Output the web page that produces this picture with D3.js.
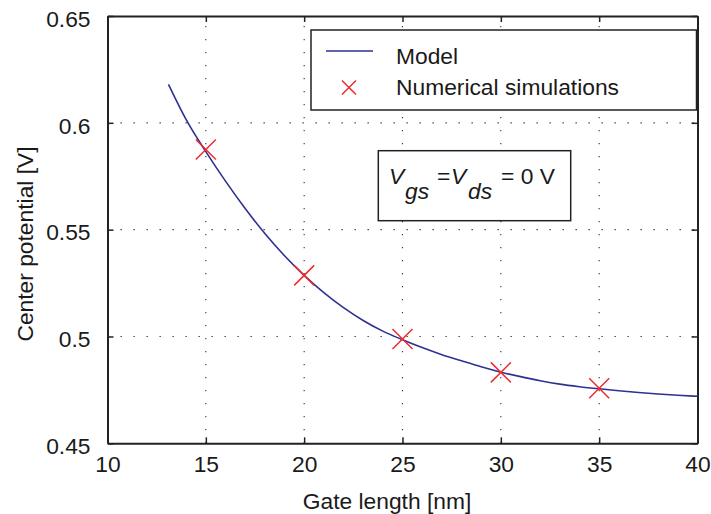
<!DOCTYPE html>
<html>
<head>
<meta charset="utf-8">
<script src="https://cdn.jsdelivr.net/npm/d3@7/dist/d3.min.js"></script>
<style>
  html, body { margin: 0; padding: 0; background: #fff; }
  svg { display: block; }
  text { font-family: "Liberation Sans", Arial, sans-serif; fill: #1a1a1a; }
</style>
</head>
<body>
<svg id="chart" width="711" height="514"></svg>
<script>
// ---- data ----
const xTicks = [10, 15, 20, 25, 30, 35, 40];
const xTickLabels = ["10", "15", "20", "25", "30", "35", "40"];
const yTicks = [0.45, 0.5, 0.55, 0.6, 0.65];
const yTickLabels = ["0.45", "0.5", "0.55", "0.6", "0.65"];

const modelX = [13.1, 14, 15, 16, 17, 18, 19, 20, 21, 22, 23, 24, 25, 26, 27, 28, 29, 30, 31, 32, 33, 34, 35, 36, 37, 38, 39, 40];
const modelY = [0.618, 0.6015, 0.5865, 0.5727, 0.5599, 0.5482, 0.5378, 0.5286, 0.5205, 0.5135, 0.5075, 0.5025, 0.4985, 0.4948, 0.4915, 0.4886, 0.4858, 0.4833, 0.4812, 0.4793, 0.4777, 0.4765, 0.4755, 0.4746, 0.4738, 0.4731, 0.4725, 0.4720];

const simX = [15, 20, 25, 30, 35];
const simY = [0.5875, 0.5286, 0.4988, 0.4832, 0.4758];

const legendLabels = ["Model", "Numerical simulations"];
const xLabel = "Gate length [nm]";
const yLabel = "Center potential [V]";

// ---- layout ----
const svg = d3.select("#chart");
const L = 107.5, R = 697.5, T = 16, B = 443.3;
const x = d3.scaleLinear().domain([10, 40]).range([L, R]);
const y = d3.scaleLinear().domain([0.45, 0.65]).range([B, T]);

const axisColor = "#222";
const fs = 22.8;

// grid
const grid = svg.append("g").attr("stroke", "#333").attr("stroke-width", 1.1)
  .attr("stroke-dasharray", "1.3,11.7").attr("fill", "none");
xTicks.slice(1, -1).forEach(v => {
  grid.append("line").attr("x1", x(v)).attr("x2", x(v)).attr("y1", B).attr("y2", T);
});
yTicks.slice(1, -1).forEach(v => {
  grid.append("line").attr("x1", L).attr("x2", R).attr("y1", y(v)).attr("y2", y(v));
});

// axes using d3 axis generators (inward ticks)
const tickLen = 6;
const axB = svg.append("g").attr("transform", `translate(0,${B})`)
  .call(d3.axisBottom(x).tickValues(xTicks).tickSizeInner(-tickLen).tickSizeOuter(0)
    .tickFormat((d, i) => xTickLabels[i]).tickPadding(13));
const axT = svg.append("g").attr("transform", `translate(0,${T})`)
  .call(d3.axisTop(x).tickValues(xTicks).tickSizeInner(-tickLen).tickSizeOuter(0).tickFormat(""));
const axL = svg.append("g").attr("transform", `translate(${L},0)`)
  .call(d3.axisLeft(y).tickValues(yTicks).tickSizeInner(-tickLen).tickSizeOuter(0)
    .tickFormat((d, i) => yTickLabels[i]).tickPadding(17));
const axR = svg.append("g").attr("transform", `translate(${R},0)`)
  .call(d3.axisRight(y).tickValues(yTicks).tickSizeInner(-tickLen).tickSizeOuter(0).tickFormat(""));

[axB, axT, axL, axR].forEach(a => {
  a.selectAll(".domain").attr("stroke", axisColor).attr("stroke-width", 2);
  a.selectAll(".tick line").attr("stroke", axisColor).attr("stroke-width", 1.5);
  a.selectAll("text").attr("font-size", fs).attr("font-family", "Liberation Sans, Arial, sans-serif").attr("fill", "#1a1a1a");
});
axB.selectAll(".tick text").attr("dy", "0.71em");
axL.selectAll(".tick text").attr("dy", "0.45em");

// model curve
const modelData = modelX.map((v, i) => [v, modelY[i]]);
const line = d3.line().x(d => x(d[0])).y(d => y(d[1])).curve(d3.curveMonotoneX);
svg.append("path").datum(modelData).attr("d", line)
  .attr("fill", "none").attr("stroke", "#2e3192").attr("stroke-width", 1.6);

// simulation markers
const red = "#ee2a2f";
const ms = 10;
const simData = simX.map((v, i) => [v, simY[i]]);
svg.append("g").selectAll("path").data(simData).join("path")
  .attr("d", d => {
    const cx = x(d[0]), cy = y(d[1]);
    return `M${cx - ms},${cy - ms}L${cx + ms},${cy + ms}M${cx - ms},${cy + ms}L${cx + ms},${cy - ms}`;
  })
  .attr("stroke", red).attr("stroke-width", 1.5).attr("fill", "none");

// legend
const lg = svg.append("g");
lg.append("rect").attr("x", 311).attr("y", 30).attr("width", 385.5).attr("height", 80)
  .attr("fill", "#fff").attr("stroke", axisColor).attr("stroke-width", 1.5);
lg.append("line").attr("x1", 326).attr("x2", 373).attr("y1", 51).attr("y2", 51)
  .attr("stroke", "#2e3192").attr("stroke-width", 1.6);
lg.append("path").attr("d", "M342,80.5L356,94.5M342,94.5L356,80.5")
  .attr("stroke", red).attr("stroke-width", 1.5).attr("fill", "none");
lg.append("text").attr("x", 396).attr("y", 63.5).attr("font-size", fs).text(legendLabels[0]);
lg.append("text").attr("x", 396).attr("y", 94.5).attr("font-size", fs).text(legendLabels[1]);

// annotation box
const ann = svg.append("g");
ann.append("rect").attr("x", 378.3).attr("y", 150.7).attr("width", 192.4).attr("height", 70)
  .attr("fill", "#fff").attr("stroke", axisColor).attr("stroke-width", 1.5);
const at = ann.append("text").attr("font-size", fs);
at.append("tspan").attr("x", 389).attr("y", 184).attr("font-style", "italic").text("V");
at.append("tspan").attr("x", 405).attr("y", 199).attr("font-style", "italic").text("gs");
at.append("tspan").attr("x", 437).attr("y", 184).text("=");
at.append("tspan").attr("x", 451).attr("y", 184).attr("font-style", "italic").text("V");
at.append("tspan").attr("x", 468).attr("y", 199).attr("font-style", "italic").text("ds");
at.append("tspan").attr("x", 501).attr("y", 184).text("= 0 V");

// axis labels
svg.append("text").attr("x", 387).attr("y", 509).attr("text-anchor", "middle")
  .attr("font-size", fs).text(xLabel);
svg.append("text").attr("transform", "translate(33,244) rotate(-90)").attr("text-anchor", "middle")
  .attr("font-size", fs).text(yLabel);
</script>
</body>
</html>
